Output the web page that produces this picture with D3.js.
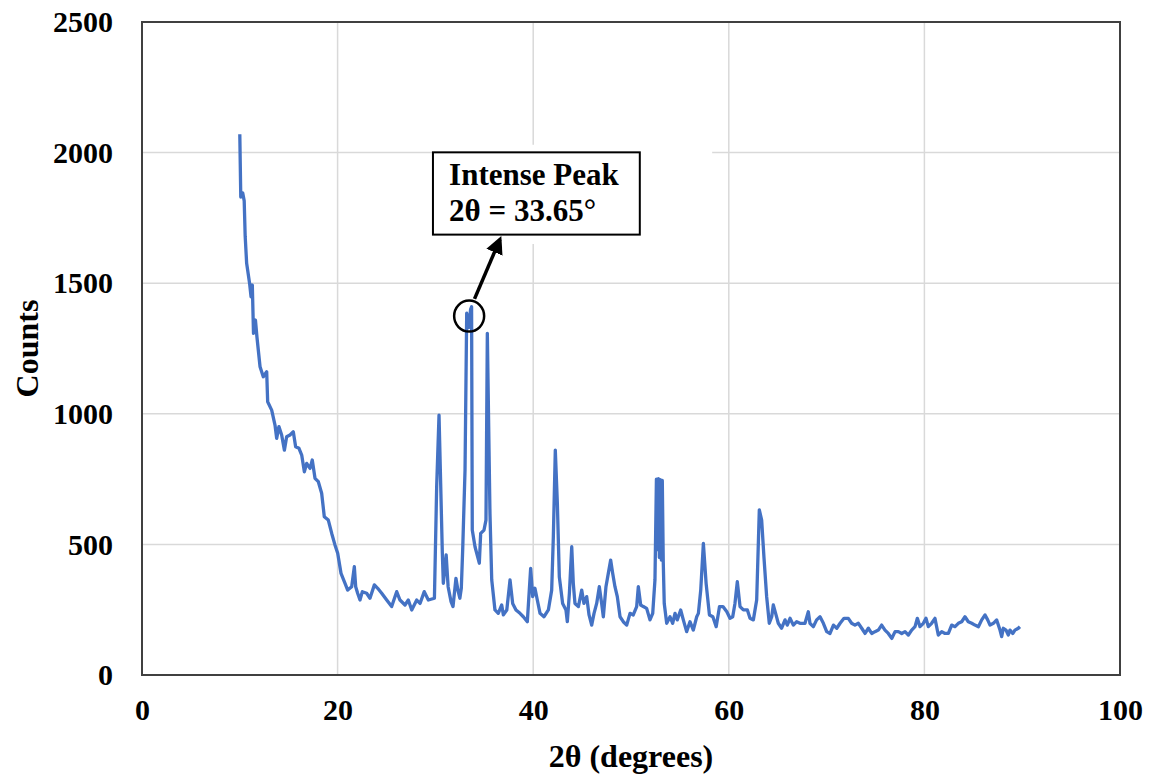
<!DOCTYPE html>
<html>
<head>
<meta charset="utf-8">
<script src="https://cdn.jsdelivr.net/npm/d3@7"></script>
<style>
  body { margin: 0; background: #fff; }
  text { font-family: "Liberation Serif", "Times New Roman", serif; font-weight: bold; fill: #000; }
</style>
</head>
<body>
<script>
// XRD pattern, values
var twoTheta = [
  10.0, 10.1, 10.3, 10.45, 10.55, 10.7, 11.0, 11.15, 11.28, 11.4, 11.6, 11.75, 12.07, 12.4, 12.75, 12.85,
  13.26, 13.6, 13.77, 14.0, 14.28, 14.56, 14.79, 15.13, 15.47, 15.71, 16.05, 16.33, 16.6, 16.84, 17.18,
  17.41, 17.69, 18.03, 18.37, 18.64, 19.05, 19.4, 19.73, 20.01, 20.35, 20.76, 21.03, 21.44, 21.71, 21.85,
  22.05, 22.29, 22.53, 22.97, 23.31, 23.76, 24.1, 24.51, 25.02, 25.53, 26.04, 26.38, 26.89, 27.23, 27.58,
  28.09, 28.43, 28.86, 29.28, 29.9, 30.13, 30.37, 30.71, 30.81, 31.1, 31.3, 31.6, 31.8, 32.1, 32.3, 32.5,
  32.65, 32.79, 33.03, 33.2, 33.4, 33.6, 33.7, 33.77, 34.05, 34.49, 34.63, 34.97, 35.17, 35.31, 35.58,
  35.76, 36.09, 36.43, 36.78, 36.95, 37.3, 37.63, 37.9, 38.24, 38.65, 38.99, 39.4, 39.74, 39.95, 40.18,
  40.42, 40.7, 41.1, 41.55, 41.89, 42.06, 42.26, 42.47, 42.67, 43.01, 43.35, 43.49, 43.7, 43.94, 44.1,
  44.27, 44.62, 44.96, 45.19, 45.47, 45.71, 45.98, 46.22, 46.49, 46.76, 47.0, 47.17, 47.44, 47.68, 47.92,
  48.13, 48.36, 48.6, 48.88, 49.21, 49.56, 49.9, 50.23, 50.58, 50.75, 50.99, 51.26, 51.6, 51.94, 52.22,
  52.45, 52.6, 52.7, 52.8, 52.9, 53.0, 53.1, 53.2, 53.3, 53.4, 53.65, 53.99, 54.26, 54.5, 54.73, 55.08,
  55.35, 55.69, 56.03, 56.37, 56.72, 56.89, 57.13, 57.4, 57.68, 58.02, 58.37, 58.71, 59.05, 59.4, 59.8,
  60.12, 60.4, 60.63, 60.87, 61.15, 61.49, 61.9, 62.17, 62.51, 62.85, 63.12, 63.36, 63.59, 63.87, 64.14,
  64.39, 64.55, 64.83, 65.06, 65.4, 65.75, 65.98, 66.26, 66.6, 66.94, 67.28, 67.79, 68.13, 68.3, 68.64,
  68.98, 69.33, 69.67, 70.01, 70.35, 70.7, 71.04, 71.38, 71.78, 72.22, 72.56, 72.9, 73.24, 73.59, 73.93,
  74.27, 74.61, 74.95, 75.29, 75.63, 75.97, 76.31, 76.66, 77.0, 77.34, 77.68, 78.02, 78.36, 78.7, 79.04,
  79.28, 79.55, 79.89, 80.16, 80.4, 80.74, 81.08, 81.42, 81.77, 82.11, 82.45, 82.79, 83.13, 83.47, 83.81,
  84.15, 84.49, 84.84, 85.17, 85.52, 85.86, 86.2, 86.47, 86.71, 87.05, 87.39, 87.73, 87.9, 88.07, 88.34,
  88.58, 88.75, 89.03, 89.26, 89.6, 89.77
];
var counts = [
  2070, 1830, 1845, 1815, 1680, 1576, 1500, 1448, 1493, 1308, 1359, 1295, 1180, 1142, 1161, 1046,
  1014, 957, 906, 951, 919, 861, 912, 919, 931, 874, 868, 842, 778, 810, 791,
  823, 753, 740, 696, 606, 593, 542, 498, 466, 389, 351, 325, 338, 415, 338,
  313, 287, 319, 313, 294, 345, 332, 313, 287, 262, 319, 287, 268, 287, 249,
  287, 274, 319, 287, 294, 721, 995, 466, 351, 460, 338, 281, 262, 370, 325, 294,
  332, 479, 785, 1385, 1330, 1400, 1410, 555, 491, 428, 542, 555, 593, 1308, 619,
  364, 249, 236, 268, 230, 249, 364, 274, 249, 236, 223, 204, 408, 300, 332,
  287, 236, 223, 249, 325, 530, 861, 657, 376, 274, 249, 204, 313, 491, 351,
  274, 262, 325, 274, 300, 230, 191, 236, 274, 338, 274, 223, 338, 389, 440,
  389, 338, 300, 223, 204, 191, 236, 230, 262, 338, 268, 262, 255, 211, 236,
  364, 750, 480, 752, 450, 748, 440, 745, 430, 274, 198, 223, 198, 236, 211, 249,
  211, 166, 204, 172, 223, 236, 325, 504, 351, 230, 223, 185, 262, 262, 242,
  217, 223, 274, 357, 262, 249, 249, 217, 211, 287, 632, 593, 453, 300, 198,
  223, 268, 230, 198, 179, 211, 191, 217, 191, 204, 198, 198, 242, 198, 185,
  211, 223, 198, 166, 159, 191, 179, 198, 217, 217, 198, 191, 198, 179, 159,
  179, 159, 166, 172, 191, 172, 159, 140, 166, 166, 159, 166, 153, 172, 185,
  217, 185, 198, 217, 185, 198, 217, 153, 166, 159, 159, 191, 185, 198, 204,
  223, 204, 198, 191, 185, 211, 230, 211, 191, 198, 211, 172, 147, 179, 172,
  153, 172, 159, 172, 179, 185
];
var xTicks = [0, 20, 40, 60, 80, 100];
var yTicks = [0, 500, 1000, 1500, 2000, 2500];

// annotation, in data units
var peakLabel = ["Intense Peak", "2\u03b8 = 33.65\u00b0"];
var peakMark = {theta: 33.45, count: 1374};

var width = 1150, height = 780;
var margin = {top: 22, right: 30, bottom: 105, left: 142};

var svg = d3.select("body").append("svg")
    .attr("width", width)
    .attr("height", height);

var x = d3.scaleLinear().domain([0, 100]).range([margin.left, width - margin.right]);
var y = d3.scaleLinear().domain([0, 2500]).range([height - margin.bottom, margin.top]);

// gridlines
svg.append("g")
    .selectAll("line.vg")
    .data(xTicks.slice(1, -1))
    .enter().append("line")
    .attr("x1", d => x(d)).attr("x2", d => x(d))
    .attr("y1", y(0)).attr("y2", y(2500))
    .attr("stroke", "#d9d9d9").attr("stroke-width", 1.5);

svg.append("g")
    .selectAll("line.hg")
    .data(yTicks.slice(1, -1))
    .enter().append("line")
    .attr("x1", x(0)).attr("x2", x(100))
    .attr("y1", d => y(d)).attr("y2", d => y(d))
    .attr("stroke", "#d9d9d9").attr("stroke-width", 1.5);

// axes (labels only, no tick marks)
var xAxis = svg.append("g")
    .attr("transform", "translate(0," + y(0) + ")")
    .call(d3.axisBottom(x).tickValues(xTicks).tickFormat(d3.format("d")).tickSize(0).tickPadding(24));
var yAxis = svg.append("g")
    .attr("transform", "translate(" + x(0) + ",0)")
    .call(d3.axisLeft(y).tickValues(yTicks).tickFormat(d3.format("d")).tickSize(0).tickPadding(29));
[xAxis, yAxis].forEach(function(a) {
    a.select(".domain").remove();
    a.selectAll("text")
        .style("font-family", '"Liberation Serif", serif')
        .style("font-weight", "bold")
        .style("font-size", "30px")
        .attr("fill", "#000");
});

// white box behind annotation (hides gridlines)
svg.append("rect")
    .attr("x", x(29.75)).attr("y", y(2030))
    .attr("width", x(58.3) - x(29.75)).attr("height", y(1650) - y(2030))
    .attr("fill", "#fff");

// data line
var pts = twoTheta.map(function(t, i) { return [t, counts[i]]; });
svg.append("path")
    .datum(pts)
    .attr("fill", "none")
    .attr("stroke", "#4472c4")
    .attr("stroke-width", 3.3)
    .attr("stroke-linejoin", "round")
    .attr("d", d3.line().x(d => x(d[0])).y(d => y(d[1])));

// plot frame
svg.append("rect")
    .attr("x", x(0)).attr("y", y(2500))
    .attr("width", x(100) - x(0)).attr("height", y(0) - y(2500))
    .attr("fill", "none")
    .attr("stroke", "#404040")
    .attr("stroke-width", 2);

// annotation box
svg.append("rect")
    .attr("x", x(29.75)).attr("y", y(2001))
    .attr("width", x(50.9) - x(29.75)).attr("height", y(1686) - y(2001))
    .attr("fill", "#fff")
    .attr("stroke", "#000")
    .attr("stroke-width", 2);

svg.append("g").selectAll("text")
    .data(peakLabel)
    .enter().append("text")
    .attr("x", x(31.4))
    .attr("y", (d, i) => y(1875) + i * 36)
    .style("font-size", "31px")
    .text(d => d);

// circle around the peak + arrow
svg.append("ellipse")
    .attr("cx", x(peakMark.theta)).attr("cy", y(peakMark.count))
    .attr("rx", 15).attr("ry", 15.5)
    .attr("fill", "none")
    .attr("stroke", "#000")
    .attr("stroke-width", 2.5);

svg.append("defs").append("marker")
    .attr("id", "arrow")
    .attr("viewBox", "0 0 10 10")
    .attr("refX", 8).attr("refY", 5)
    .attr("markerWidth", 5).attr("markerHeight", 5)
    .attr("orient", "auto")
    .append("path")
    .attr("d", "M0,0L10,5L0,10z")
    .attr("fill", "#000");

svg.append("line")
    .attr("x1", x(34.0)).attr("y1", y(1440))
    .attr("x2", x(36.6)).attr("y2", y(1668))
    .attr("stroke", "#000")
    .attr("stroke-width", 3.5)
    .attr("marker-end", "url(#arrow)");

// axis titles
svg.append("text")
    .attr("transform", "translate(38," + y(1250) + ") rotate(-90)")
    .attr("text-anchor", "middle")
    .style("font-size", "32px")
    .text("Counts");

svg.append("text")
    .attr("x", x(50))
    .attr("y", 767)
    .attr("text-anchor", "middle")
    .style("font-size", "32px")
    .text("2\u03b8 (degrees)");
</script>
</body>
</html>
